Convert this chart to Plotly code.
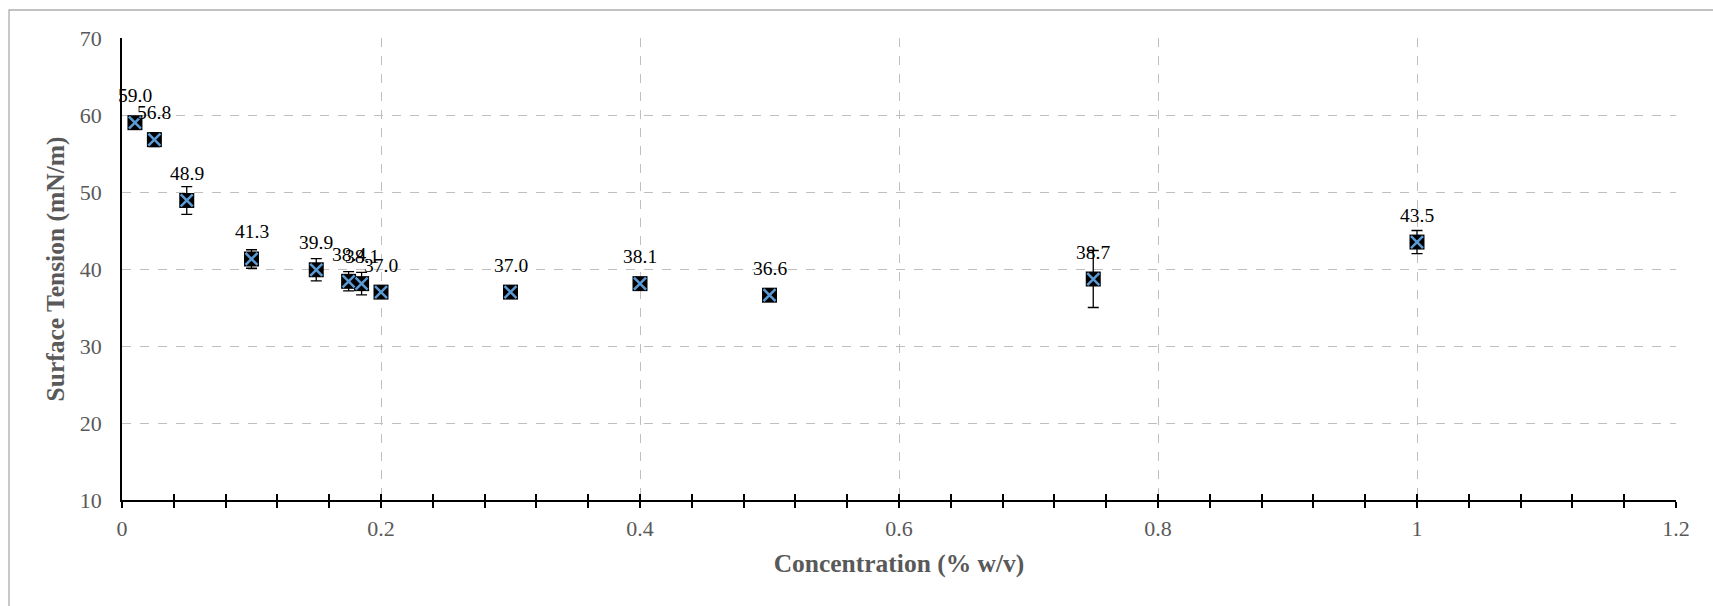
import plotly.graph_objects as go

# Surface tension vs. concentration with standard deviations
concentration = [0.01, 0.025, 0.05, 0.1, 0.15, 0.175, 0.185, 0.2, 0.3, 0.4, 0.5, 0.75, 1.0]
surface_tension = [59.0, 56.8, 48.9, 41.3, 39.9, 38.4, 38.1, 37.0, 37.0, 38.1, 36.6, 38.7, 43.5]
std_dev = [0.4, 0.9, 1.8, 1.2, 1.45, 1.25, 1.45, 0.3, 0.3, 0.4, 0.3, 3.7, 1.5]

x_ticks = [0, 0.2, 0.4, 0.6, 0.8, 1.0, 1.2]
x_tick_text = ["0", "0.2", "0.4", "0.6", "0.8", "1", "1.2"]
y_ticks = [10, 20, 30, 40, 50, 60, 70]

SERIF = "Liberation Serif"
GRID = "#BFBFBF"
LABEL_GREY = "#595959"
BLUE = "#5B9BD5"

fig = go.Figure()

# Black square markers carrying the error bars
fig.add_trace(go.Scatter(
    x=concentration, y=surface_tension, mode="markers",
    marker=dict(symbol="square", size=15, color="black",
                line=dict(color="black", width=0)),
    error_y=dict(type="data", array=std_dev, visible=True,
                 color="black", thickness=1.3, width=5.5),
    showlegend=False, hoverinfo="skip",
))

# Blue cross drawn on top of each square
fig.add_trace(go.Scatter(
    x=concentration, y=surface_tension, mode="markers",
    marker=dict(symbol="x-thin", size=12, color=BLUE,
                line=dict(color=BLUE, width=2.5)),
    showlegend=False, hoverinfo="skip",
))

# Invisible trace so the secondary x-axis (inner tick halves) is rendered
fig.add_trace(go.Scatter(
    x=[0, 1.2], y=[10, 10], xaxis="x2", mode="markers",
    marker=dict(opacity=0), showlegend=False, hoverinfo="skip",
))

# Value labels above each point
for xv, yv in zip(concentration, surface_tension):
    fig.add_annotation(
        x=xv, y=yv, text=f"{yv:.1f}", showarrow=False, yshift=27,
        font=dict(family=SERIF, size=19.5, color="black"),
    )

# Outer chart frame
fig.add_shape(
    type="rect", xref="paper", yref="paper",
    x0=-0.0727, x1=1.2, y0=-0.5, y1=1.0606,
    line=dict(color="#ADADAD", width=1.3), fillcolor="rgba(0,0,0,0)",
    layer="below",
)

fig.update_layout(
    width=1713, height=606,
    margin=dict(l=122, r=37, t=38, b=106),
    paper_bgcolor="white", plot_bgcolor="white",
    font=dict(family=SERIF, color=LABEL_GREY),
    xaxis=dict(
        range=[0, 1.2], tickvals=x_ticks, ticktext=x_tick_text,
        showgrid=True, gridcolor=GRID, griddash="dash", gridwidth=1,
        zeroline=False, showline=True, linecolor="black", linewidth=1.5,
        ticks="outside", ticklen=6, tickwidth=1.5, tickcolor="black",
        minor=dict(dtick=0.04, tick0=0, ticks="outside", ticklen=6,
                   tickwidth=1.5, tickcolor="black", showgrid=False),
        tickfont=dict(family=SERIF, size=22, color=LABEL_GREY),
        ticklabelstandoff=2,
        title=dict(text="<b>Concentration (% w/v)</b>", standoff=14,
                   font=dict(family=SERIF, size=25.5, color=LABEL_GREY)),
    ),
    xaxis2=dict(
        range=[0, 1.2], overlaying="x", side="bottom", anchor="y",
        showgrid=False, zeroline=False, showline=False,
        showticklabels=False, tick0=0, dtick=0.04,
        ticks="inside", ticklen=6, tickwidth=1.5, tickcolor="black",
    ),
    yaxis=dict(
        range=[10, 70], tickvals=y_ticks,
        showgrid=True, gridcolor=GRID, griddash="dash", gridwidth=1,
        zeroline=False, showline=True, linecolor="black", linewidth=1.5,
        ticks="",
        tickfont=dict(family=SERIF, size=22, color=LABEL_GREY),
        ticklabelstandoff=14,
        title=dict(text="<b>Surface Tension (mN/m)</b>", standoff=8,
                   font=dict(family=SERIF, size=25.5, color=LABEL_GREY)),
    ),
)

fig.write_html("out.html")
